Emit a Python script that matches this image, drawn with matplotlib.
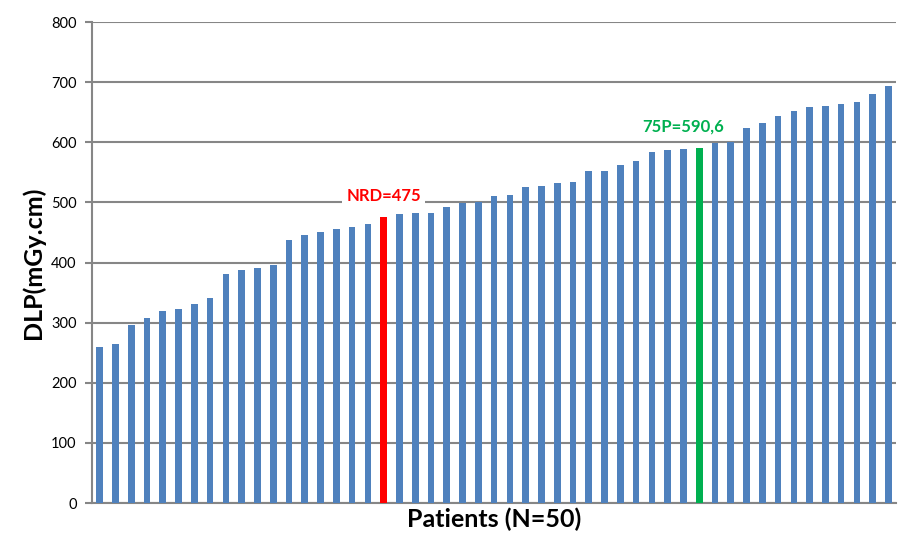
import numpy as np
import matplotlib
matplotlib.use('Agg')
from matplotlib import pyplot as plt

plt.rcParams['font.family'] = ['Lato', 'DejaVu Sans']

# DLP per patient, sorted
dlp = [260, 265, 296, 308, 319, 322, 331, 341, 381, 388,
       391, 396, 438, 445, 450, 455, 459, 464, 475, 481,
       482, 482, 493, 499, 500, 511, 513, 525, 528, 532,
       534, 552, 553, 562, 569, 584, 587, 589, 590.6, 599,
       601, 623, 632, 643, 652, 659, 660, 664, 667, 680,
       694]
nrd_idx = 18
p75_idx = 38
nrd_label = 'NRD=475'
p75_label = '75P=590,6'

blue = '#4F81BD'
colors = [blue] * len(dlp)
colors[nrd_idx] = '#FF0000'
colors[p75_idx] = '#00B050'

fig = plt.figure(figsize=(9, 5.38), dpi=100)
ax = fig.add_axes([0.102, 0.065, 0.894, 0.894])

x = np.arange(len(dlp))
ax.bar(x, dlp, width=0.42, color=colors, zorder=3)

ax.set_xlim(-0.5, len(dlp) - 0.5)
ax.set_ylim(0, 800)
ax.set_yticks(range(0, 801, 100))
ax.set_xticks([])
ax.yaxis.grid(True, color='#868686', linewidth=1.5, zorder=0)
ax.set_axisbelow(True)

for s in ['top', 'right']:
    ax.spines[s].set_visible(False)
for s in ['left', 'bottom']:
    ax.spines[s].set_color('#868686')
    ax.spines[s].set_linewidth(1.5)
ax.tick_params(axis='y', colors='#868686', length=5, width=1.5, labelsize=10.5, labelcolor='black', pad=6)

ax.text(nrd_idx, 510, nrd_label, color='#FF0000', fontsize=12, fontweight='bold',
        ha='center', va='center', zorder=4,
        bbox=dict(facecolor='white', edgecolor='none', pad=3))
ax.text(p75_idx - 1, 627, p75_label, color='#00B050', fontsize=12, fontweight='bold',
        ha='center', va='center', zorder=4,
        bbox=dict(facecolor='white', edgecolor='none', pad=3))

ax.set_ylabel('DLP(mGy.cm)', fontsize=18, fontweight='bold', labelpad=4)
ax.set_xlabel('Patients (N=50)', fontsize=18, fontweight='bold', labelpad=3)

plt.savefig('out.png', dpi=100)
